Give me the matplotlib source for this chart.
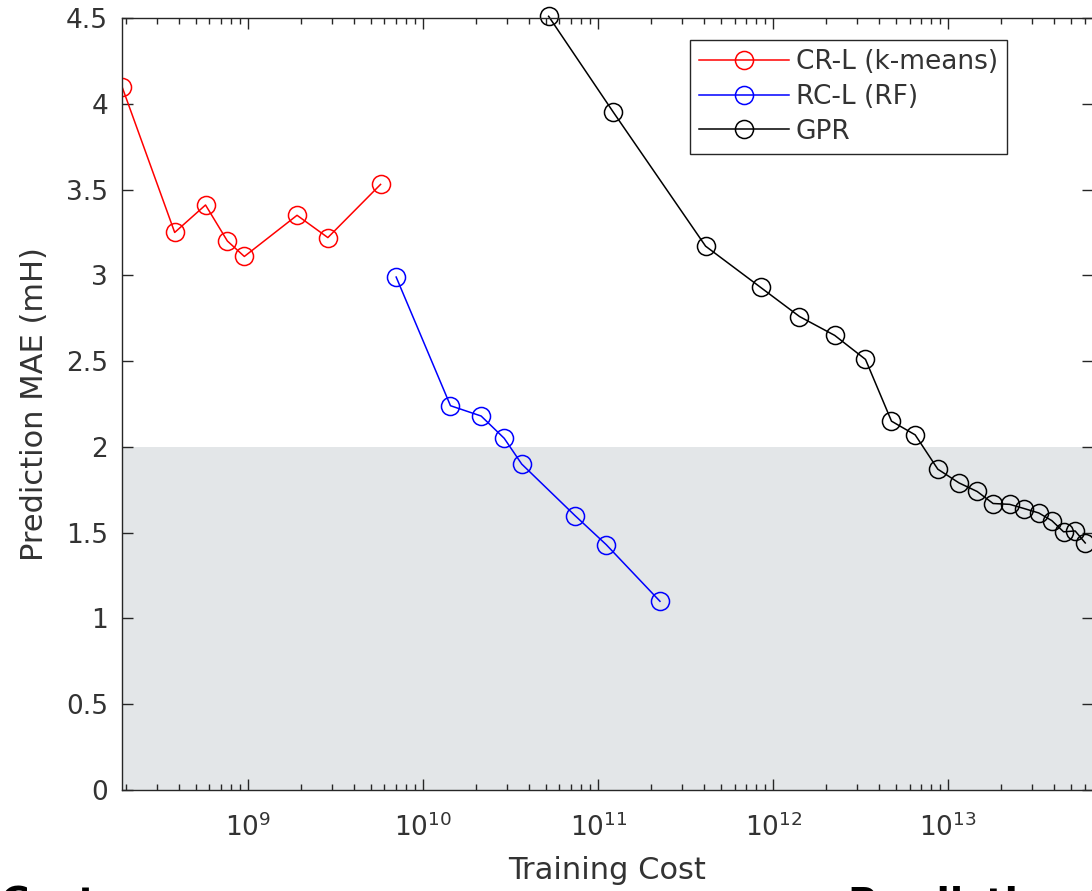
import numpy as np
import matplotlib
matplotlib.use("Agg")
import matplotlib.pyplot as plt
from matplotlib.ticker import LogLocator, FixedLocator, FormatStrFormatter, NullFormatter

# training cost vs. prediction MAE for the three models
crl_cost = [1.9e8, 3.8e8, 5.7e8, 7.6e8, 9.5e8, 1.9e9, 2.85e9, 5.7e9]
crl_mae = [4.10, 3.25, 3.41, 3.20, 3.11, 3.35, 3.22, 3.53]

rcl_cost = [7.0e9, 1.43e10, 2.14e10, 2.9e10, 3.65e10, 7.35e10, 1.11e11, 2.25e11]
rcl_mae = [2.99, 2.24, 2.18, 2.05, 1.90, 1.60, 1.43, 1.10]

gpr_cost = [5.2e10, 1.22e11, 4.1e11, 8.45e11, 1.41e12, 2.24e12, 3.36e12, 4.73e12,
            6.46e12, 8.7e12, 1.15e13, 1.46e13, 1.80e13, 2.24e13, 2.72e13, 3.28e13,
            3.9e13, 4.55e13, 5.3e13, 6.05e13]
gpr_mae = [4.51, 3.95, 3.17, 2.93, 2.76, 2.65, 2.51, 2.15,
           2.07, 1.87, 1.79, 1.74, 1.67, 1.665, 1.64, 1.615,
           1.57, 1.505, 1.51, 1.44]

labels = ["CR-L (k-means)", "RC-L (RF)", "GPR"]
target_mae = 2.0

axcol = "#262626"
txtcol = "#333333"
plt.rcParams["font.family"] = "DejaVu Sans"

fig = plt.figure(figsize=(10.92, 8.91), dpi=100)
ax = fig.add_axes([122/1092, 101/891, 971/1092, 772/891])

ax.axhspan(0, target_mae, color="#e3e6e8", zorder=0, lw=0)

style = dict(marker="o", markersize=13, markerfacecolor="none", markeredgewidth=1.1, lw=1.1)
ax.plot(crl_cost, crl_mae, color="red", label=labels[0], **style)
ax.plot(rcl_cost, rcl_mae, color="blue", label=labels[1], **style)
ax.plot(gpr_cost, gpr_mae, color="black", label=labels[2], clip_on=False, **style)

ax.set_xscale("log")
ax.set_xlim(1.9e8, 6.7e13)
ax.set_ylim(0, 4.5)
ax.yaxis.set_major_locator(FixedLocator(np.arange(0, 4.51, 0.5)))
ax.yaxis.set_major_formatter(FormatStrFormatter("%g"))
ax.xaxis.set_major_locator(LogLocator(base=10))
ax.xaxis.set_minor_locator(LogLocator(base=10, subs=np.arange(2, 10)))
ax.xaxis.set_minor_formatter(NullFormatter())

ax.tick_params(which="both", direction="in", top=True, right=True, colors=axcol,
               labelsize=19, width=1.0)
ax.tick_params(which="major", length=8)
ax.tick_params(which="minor", length=4)
ax.tick_params(axis="y", pad=10)
ax.tick_params(axis="x", pad=17)
for tl in ax.get_xticklabels() + ax.get_yticklabels():
    tl.set_color(txtcol)
for s in ax.spines.values():
    s.set_color(axcol)
    s.set_linewidth(1.0)

ax.set_xlabel("Training Cost", fontsize=22, color=txtcol, labelpad=10)
ax.set_ylabel("Prediction MAE (mH)", fontsize=22, color=txtcol, labelpad=12)

leg = ax.legend(loc="upper left", bbox_to_anchor=(0.585, 0.9715), borderaxespad=0,
                fontsize=19, handlelength=3.4, fancybox=False, framealpha=1,
                edgecolor=axcol, labelspacing=0.33, borderpad=0.35, handletextpad=0.25)
leg.get_frame().set_linewidth(1.0)
for t in leg.get_texts():
    t.set_color(txtcol)

# panel captions running off the bottom
fig.text(0.0, 5/891, "Cost", fontsize=28, fontweight="bold", va="top", ha="left")
fig.text(848/1092, 5/891, "Prediction Cost", fontsize=28, fontweight="bold", va="top", ha="left")

fig.savefig("out.png", dpi=100)
